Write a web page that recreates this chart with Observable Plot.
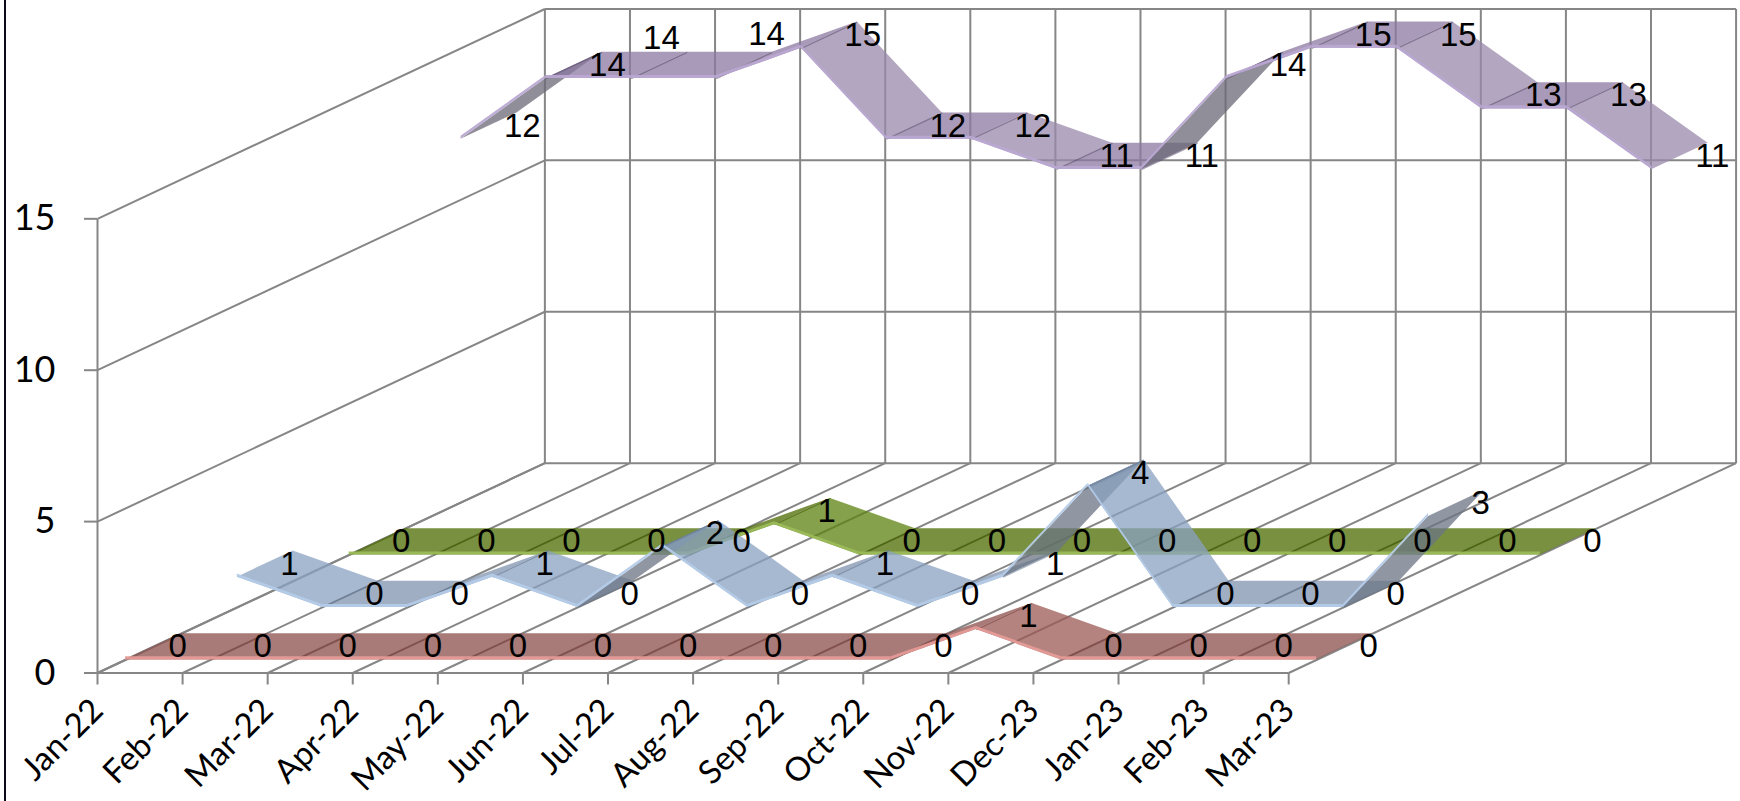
<!DOCTYPE html>
<html><head><meta charset="utf-8">
<script src="https://cdn.jsdelivr.net/npm/d3@7"></script>
<script src="https://cdn.jsdelivr.net/npm/@observablehq/plot@0.6"></script>
<style>
html,body{margin:0;padding:0;background:#fff;overflow:hidden}
#chart{position:relative;width:1740px;height:801px;overflow:hidden}
#chart svg{display:block;overflow:visible}
#edge{position:absolute;left:4px;top:0;width:2px;height:801px;background:#0a0a1e}
</style></head><body><div id="chart"><div id="edge"></div></div>
<script>
const months = ["Jan-22","Feb-22","Mar-22","Apr-22","May-22","Jun-22","Jul-22","Aug-22","Sep-22","Oct-22","Nov-22","Dec-23","Jan-23","Feb-23","Mar-23"];
const seriesRed    = [0,0,0,0,0,0,0,0,0,0,1,0,0,0,0];
const seriesBlue   = [1,0,0,1,0,2,0,1,0,1,4,0,0,0,3];
const seriesGreen  = [0,0,0,0,0,1,0,0,0,0,0,0,0,0,0];
const seriesPurple = [12,14,14,14,15,12,12,11,11,14,15,15,13,13,11];
const valueTicks = [0,5,10,15];

// Oblique projection expressed in scale units: one depth unit moves this far in x (categories) and y (values).
const depthX = 5.258, depthY = 6.93;
const slot = 0.25, ribbon = 0.125, edgeH = 0.1;
const px = (c, d) => c + d * depthX;
const py = (v, d) => v + d * depthY;

const styles = [
  {values: seriesPurple, slotIdx: 3, up:"#6b6875", flat:"#8b78a0", down:"#9988ab", edge:"#b9a8d2", joint:"#5d4f70"},
  {values: seriesGreen,  slotIdx: 2, up:"#3f5a00", flat:"#4b6b00", down:"#5d810f", edge:"#9bbb59", joint:"#3f5a00"},
  {values: seriesBlue,   slotIdx: 1, up:"#6b7484", flat:"#8093b0", down:"#89a2c0", edge:"#b4cbe8", joint:"#5f728b"},
  {values: seriesRed,    slotIdx: 0, up:"#7a423e", flat:"#8c4f4b", down:"#9c5954", edge:"#e59b98", joint:"#7a423e"}
];

// Grid
const wallV = d3.range(15).map(c => ({x1:px(c,1), y1:py(0,1), x2:px(c,1), y2:py(15,1)}));
const wallH = valueTicks.map(v => ({x1:px(0,1), y1:py(v,1), x2:px(14,1), y2:py(v,1)}));
const sideH = valueTicks.map(v => ({x1:px(0,0), y1:py(v,0), x2:px(0,1), y2:py(v,1)}));
const floorD = d3.range(15).map(c => ({x1:px(c,0), y1:py(0,0), x2:px(c,1), y2:py(0,1)}));
const frontEdges = [
  {x1:px(0,0), y1:0, x2:px(14,0), y2:0},
  {x1:px(0,0), y1:0, x2:px(0,0), y2:15}
];
const gridLines = [...wallV, ...wallH, ...sideH, ...floorD, ...frontEdges];

// Ribbon pieces
const faces = [], edges = [], joints = [], labels = [];
const labelNudge = {"3:2":[-0.365,0.88], "3:3":[-0.13,1.03]};
let seg = 0;
for (const s of styles) {
  const d0 = 0.0625 + s.slotIdx * slot, d1 = d0 + ribbon;
  s.values.forEach((v, i) => {
    const n = labelNudge[s.slotIdx + ":" + i] || [0,0];
    labels.push({x: px(i, (d0+d1)/2) + n[0], y: py(v, (d0+d1)/2) + n[1], t: String(v)});
    if (i > 0 && i < s.values.length - 1)
      joints.push({x1:px(i,d0), y1:py(v,d0), x2:px(i,d1), y2:py(v,d1), c:s.joint, o:s.slotIdx});
    if (i === s.values.length - 1) return;
    const w = s.values[i+1];
    // A rise of 2 or more flips the ribbon, so its darker underside is what shows.
    const fill = w - v >= 2 ? s.up : w < v ? s.down : s.flat;
    seg++;
    for (const [c, val] of [[i,v],[i+1,w]]) {
      faces.push({x1:px(c,d0), y1:py(val,d0), x2:px(c,d1), y2:py(val,d1), z:seg, fill, o:s.slotIdx});
      edges.push({x1:px(c,d0), y1:py(val,d0), x2:px(c,d0), y2:py(val,d0)+edgeH, z:seg, fill:s.edge, o:s.slotIdx});
    }
  });
}

const layer = o => [
  Plot.area(faces.filter(d => d.o === o), {x1:"x1", y1:"y1", x2:"x2", y2:"y2", z:"z", fill:"fill", fillOpacity:0.75, curve:"linear"}),
  Plot.link(joints.filter(d => d.o === o), {x1:"x1", y1:"y1", x2:"x2", y2:"y2", stroke:"c", strokeOpacity:0.55, strokeWidth:1.3}),
  Plot.area(edges.filter(d => d.o === o), {x1:"x1", y1:"y1", x2:"x2", y2:"y2", z:"z", fill:"fill", fillOpacity:0.95, curve:"linear"})
];

const chart = Plot.plot({
  width:1740, height:801,
  marginLeft:97, marginRight:0, marginTop:0, marginBottom:128.5,
  style:{background:"transparent"},
  x:{domain:[0,19.31]},
  y:{domain:[0,22.21]},
  color:{type:"identity"},
  marks:[
    Plot.link(gridLines, {x1:"x1", y1:"y1", x2:"x2", y2:"y2", stroke:"#868686", strokeWidth:2}),
    Plot.axisY({ticks:valueTicks, tickSize:13, tickPadding:29, stroke:"#868686", strokeWidth:2, fill:"#000", fontSize:36, fontFamily:"Lato", label:null}),
    Plot.axisX({ticks:d3.range(15), tickFormat:i => months[i], tickRotate:-45, tickSize:12, tickPadding:20, stroke:"#868686", strokeWidth:2, fill:"#000", fontSize:33, fontFamily:"Lato", label:null}),
    ...layer(3), ...layer(2), ...layer(1), ...layer(0),
    Plot.text(labels, {x:"x", y:"y", text:"t", dx:15, textAnchor:"start", lineAnchor:"middle", fontSize:33, fontFamily:"Liberation Sans", fill:"#000"})
  ]
});
document.getElementById("chart").appendChild(chart);
</script></body></html>
